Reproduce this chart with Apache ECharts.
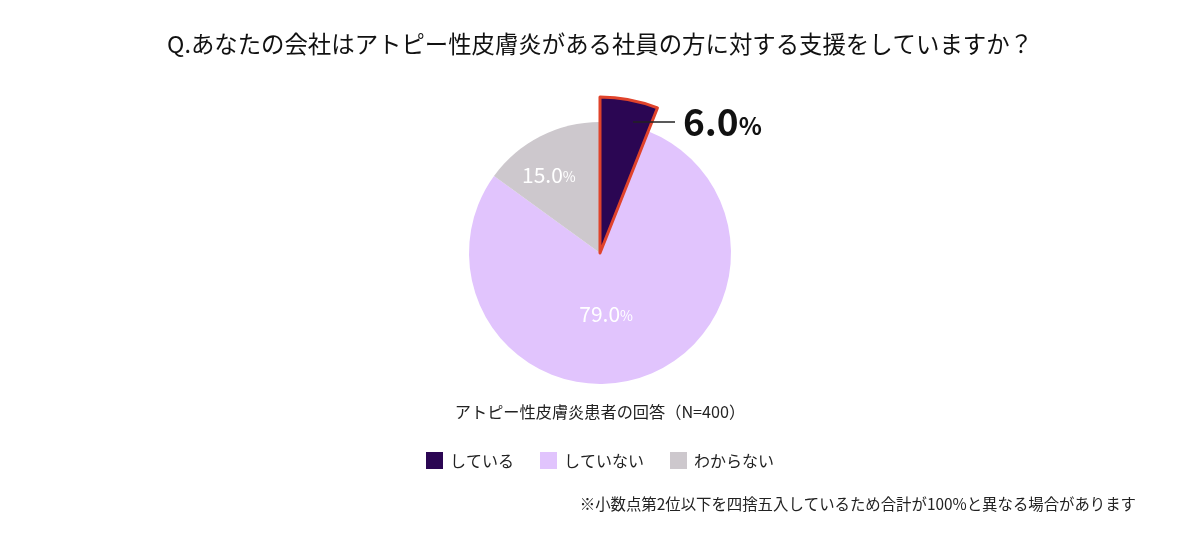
<!DOCTYPE html>
<html>
<head>
<meta charset="utf-8">
<script src="https://cdn.jsdelivr.net/npm/echarts@6/dist/echarts.min.js"></script>
<style>
  html, body { margin: 0; padding: 0; background: #fff; }
  #chart { width: 1200px; height: 550px; }
</style>
</head>
<body>
<div id="chart"></div>
<script>
const categories = ["している", "していない", "わからない"];
const values = [6.0, 79.0, 15.0];
const colors = ["#2b0653", "#e1c4fd", "#cdc8cd"];

const font = "'Noto Sans CJK JP', 'Noto Sans', sans-serif";
const chart = echarts.init(document.getElementById("chart"));

// 内側ラベルの微調整
const innerShift = { 1: [-13, -5], 2: [-20, -17] };

const option = {
  backgroundColor: "#fff",
  textStyle: { fontFamily: font },
  title: [
    {
      text: "Q.あなたの会社はアトピー性皮膚炎がある社員の方に対する支援をしていますか？",
      left: "center",
      top: 27,
      textStyle: { fontSize: 23.4, fontWeight: "normal", color: "#111", fontFamily: font },
    },
    {
      text: "アトピー性皮膚炎患者の回答（N=400）",
      left: "center",
      top: 399,
      textStyle: { fontSize: 16.2, fontWeight: "normal", color: "#222", fontFamily: font },
    },
    {
      text: "※小数点第2位以下を四捨五入しているため合計が100%と異なる場合があります",
      right: 59,
      top: 491,
      textStyle: { fontSize: 15.4, fontWeight: "normal", color: "#222", fontFamily: font },
    },
  ],
  legend: {
    top: 447,
    left: "center",
    icon: "rect",
    itemWidth: 17,
    itemHeight: 17,
    itemGap: 26,
    selectedMode: false,
    textStyle: { fontSize: 16, color: "#222", fontFamily: font, padding: [0, 0, 0, 2] },
    data: categories.map((name, i) => ({ name, itemStyle: { color: colors[i] } })),
  },
  series: [
    {
      type: "pie",
      center: [600, 253],
      radius: 131,
      startAngle: 90,
      clockwise: true,
      silent: true,
      data: categories.map((name, i) => ({
        name,
        value: values[i],
        itemStyle: { color: colors[i] },
        label: { show: i !== 0 },
      })),
      label: {
        position: "inside",
        formatter: (p) => "{v|" + p.value.toFixed(1) + "}{p|%}",
        rich: {
          v: { fontSize: 21, color: "#fff", fontFamily: font },
          p: { fontSize: 14, color: "#fff", fontFamily: font, padding: [4, 0, 0, 0] },
        },
      },
      labelLayout: (params) => {
        const s = innerShift[params.dataIndex];
        return s ? { dx: s[0], dy: s[1] } : {};
      },
      labelLine: { show: false },
    },
    {
      // 強調スライス（している）
      type: "pie",
      center: [600, 253],
      radius: 156,
      startAngle: 90,
      clockwise: true,
      silent: true,
      z: 3,
      data: categories.map((name, i) => ({
        name,
        value: values[i],
        itemStyle: i === 0
          ? { color: colors[0], borderColor: "#e0432b", borderWidth: 3 }
          : { color: "transparent", borderWidth: 0 },
        label: { show: i === 0 },
      })),
      label: {
        position: "inside",
        formatter: (p) => "{ln|}{gap|}{v|" + p.value.toFixed(1) + "}{p|%}",
        rich: {
          ln: { width: 42, height: 1.5, backgroundColor: "#222" },
          gap: { width: 8 },
          v: { fontSize: 37, fontWeight: "bold", color: "#111", fontFamily: font },
          p: { fontSize: 24, fontWeight: "bold", color: "#111", fontFamily: font, padding: [8, 0, 0, 0] },
        },
      },
      labelLayout: { x: 633, y: 122, align: "left", verticalAlign: "middle" },
      labelLine: { show: false },
    },
  ],
};

chart.setOption(option);
window.addEventListener("resize", () => chart.resize());
</script>
</body>
</html>
